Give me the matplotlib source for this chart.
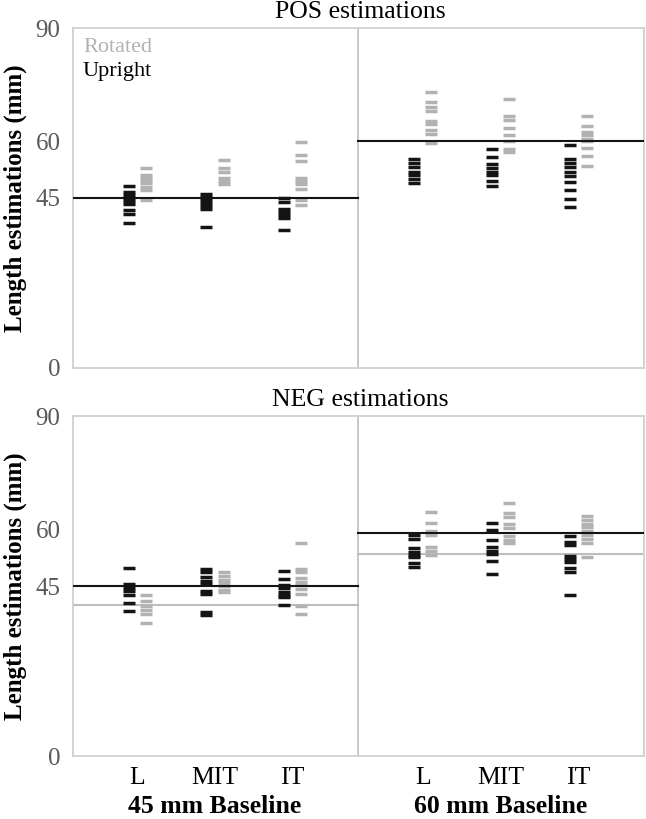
import matplotlib
matplotlib.use('Agg')
import matplotlib.pyplot as plt

plt.rcParams['font.family'] = ['Liberation Serif', 'DejaVu Serif']

# categories (each baseline panel has L / MIT / IT)
categories = ['L', 'MIT', 'IT']
baselines = ['45 mm Baseline', '60 mm Baseline']

# POS estimations (mm)
pos45_upright = [[48.2, 46.5, 45.7, 44.9, 44.1, 43.4, 41.7, 40.8, 38.3],
                 [46.1, 45.3, 44.5, 43.7, 42.9, 42.1, 37.3],
                 [44.9, 43.9, 42.2, 41.4, 40.5, 39.6, 36.5]]
pos45_rotated = [[53.0, 51.2, 50.4, 49.6, 48.9, 47.8, 47.0, 44.5],
                 [55.1, 53.0, 52.0, 50.4, 49.5, 48.6],
                 [59.9, 56.5, 54.7, 50.4, 49.5, 48.7, 47.3, 44.4, 43.1]]
pos60_upright = [[55.2, 54.2, 53.1, 52.0, 51.0, 49.9, 49.1],
                 [57.9, 55.9, 53.9, 53.0, 52.0, 51.1, 49.6, 48.2],
                 [59.0, 55.2, 54.2, 53.2, 51.8, 50.8, 49.3, 47.0, 44.8, 42.6]]
pos60_rotated = [[73.1, 70.4, 69.0, 68.0, 65.4, 64.5, 62.9, 62.0, 59.6],
                 [71.2, 66.8, 65.7, 63.5, 61.8, 60.1, 58.1, 57.3],
                 [66.6, 64.1, 62.5, 61.6, 60.7, 60.0, 58.2, 56.0, 53.4]]

# NEG estimations
neg45_upright = [[49.9, 45.5, 44.6, 43.7, 42.7, 40.4, 38.5],
                 [49.5, 48.7, 47.3, 46.4, 45.6, 43.8, 42.9, 38.1, 37.3],
                 [49.1, 46.9, 45.4, 44.5, 43.5, 42.6, 42.0, 40.0]]
neg45_rotated = [[42.5, 41.1, 39.6, 38.6, 37.7, 35.2],
                 [48.6, 47.7, 46.7, 45.8, 44.9, 43.9, 43.3],
                 [56.5, 49.5, 48.7, 47.0, 46.1, 45.2, 44.3, 43.0, 39.8, 37.7]]
neg60_upright = [[58.5, 57.4, 55.2, 54.0, 53.2, 52.6, 51.0, 50.0],
                 [61.6, 59.8, 57.3, 55.4, 54.3, 53.4, 51.6, 48.1],
                 [58.2, 56.6, 55.8, 53.0, 52.2, 51.4, 49.8, 48.6, 42.6]]
neg60_rotated = [[64.5, 61.6, 59.5, 58.5, 55.3, 54.2, 53.2],
                 [67.0, 64.4, 63.4, 61.4, 60.3, 58.3, 57.3, 56.5],
                 [63.5, 62.5, 61.5, 60.5, 59.5, 58.5, 57.5, 56.5, 52.7]]

# mean reference lines (45 mm panel, 60 mm panel)
pos_upright_ref = [45, 60]
neg_upright_ref = [45, 59.1]
neg_rotated_ref = [40, 53.6]

yticks = [0, 45, 60, 90]

BLACK = '#141414'
GREY = '#b2b2b2'
FRAME = '#d0d0d0'

panel_w = 3.68
cat_pos = [0.83, 1.83, 2.83]
off = 0.11

fig = plt.figure(figsize=(6.46, 8.19), dpi=100)
ax_top = fig.add_axes([0.1130, 0.5507, 0.8839, 0.4151])
ax_bot = fig.add_axes([0.1130, 0.0769, 0.8839, 0.4151])


def draw_row(ax, upright_sets, rotated_sets, up_ref, rot_ref, title):
    ax.set_xlim(0, 2 * panel_w)
    ax.set_ylim(0, 90)
    for p in range(2):
        x0 = p * panel_w
        for i, c in enumerate(cat_pos):
            vals_u = upright_sets[p][i]
            vals_r = rotated_sets[p][i]
            ax.plot([x0 + c - off] * len(vals_u), vals_u, ls='none', marker='_',
                    ms=8.2, mew=2.5, color=BLACK, zorder=3)
            ax.plot([x0 + c + off] * len(vals_r), vals_r, ls='none', marker='_',
                    ms=8.2, mew=2.5, color=GREY, zorder=3)
        if rot_ref is not None:
            ax.plot([x0, x0 + panel_w], [rot_ref[p]] * 2, color='#bdbdbd', lw=1.5, zorder=2)
        ax.plot([x0, x0 + panel_w], [up_ref[p]] * 2, color=BLACK, lw=1.5, zorder=4)
    ax.axvline(panel_w, color='#bfbfbf', lw=1.2, zorder=1)
    for s in ax.spines.values():
        s.set_color(FRAME)
        s.set_linewidth(1.3)
    ax.set_yticks(yticks)
    ax.set_yticklabels([str(t) for t in yticks])
    ax.tick_params(axis='y', length=0, pad=9, labelsize=18, labelcolor='#595959')
    ax.set_ylabel('Length estimations (mm)', fontsize=18, fontweight='bold', labelpad=6)
    ax.text(0.503, 1.03, title, transform=ax.transAxes, ha='center', va='baseline', fontsize=18.5)


draw_row(ax_top, [pos45_upright, pos60_upright], [pos45_rotated, pos60_rotated],
         pos_upright_ref, None, 'POS estimations')
draw_row(ax_bot, [neg45_upright, neg60_upright], [neg45_rotated, neg60_rotated],
         neg_upright_ref, neg_rotated_ref, 'NEG estimations')

# legend as coloured text
ax_top.text(0.0175, 0.944, 'Rotated', color=GREY, fontsize=16, transform=ax_top.transAxes,
            ha='left', va='center')
ax_top.text(0.0175, 0.871, 'Upright', color='black', fontsize=16, transform=ax_top.transAxes,
            ha='left', va='center')

ax_top.set_xticks([])
xt = [p * panel_w + c for p in range(2) for c in cat_pos]
ax_bot.set_xticks(xt)
ax_bot.set_xticklabels(categories * 2)
ax_bot.tick_params(axis='x', length=0, pad=8, labelsize=18.5)
for p in range(2):
    ax_bot.text(p * panel_w + cat_pos[1], -0.148, baselines[p], transform=ax_bot.get_xaxis_transform(),
                ha='center', va='center', fontsize=18.5, fontweight='bold')

fig.savefig('out.png', dpi=100)
